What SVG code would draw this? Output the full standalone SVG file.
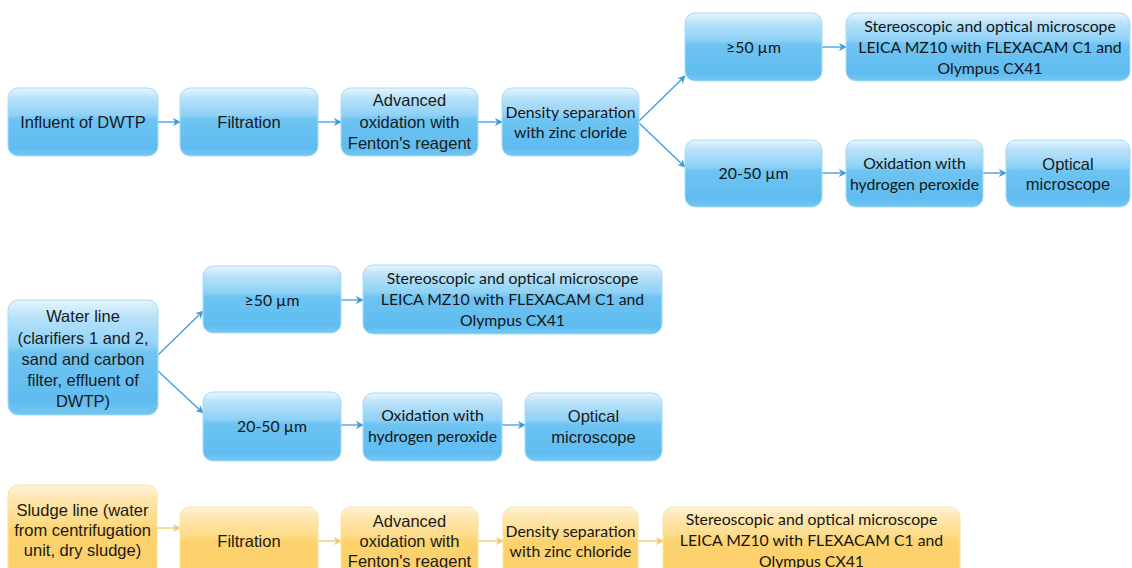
<svg xmlns="http://www.w3.org/2000/svg" width="1132" height="568" viewBox="0 0 1132 568">
<style>
.b{fill:url(#gb);stroke:#a9dbf7;stroke-width:1}
.o{fill:url(#go);stroke:#fde3a0;stroke-width:1}
.a{font-family:"Liberation Sans",Arial,sans-serif;font-size:16.5px;fill:#1a1a1a;text-anchor:middle}
.c{font-family:Lato,"Open Sans",sans-serif;font-size:15.8px;fill:#151515;text-anchor:middle}
.lb{stroke:#3d9ddc;stroke-width:1.3;fill:none;marker-end:url(#mb)}
.lo{stroke:#f2c76e;stroke-width:1.3;fill:none;marker-end:url(#mo)}
</style>
<defs>
<linearGradient id="gb" x1="0" y1="0" x2="0" y2="1">
<stop offset="0" stop-color="#e6f5fd"/>
<stop offset="0.15" stop-color="#b8e2f9"/>
<stop offset="0.4" stop-color="#8ed1f6"/>
<stop offset="0.46" stop-color="#6ec4f2"/>
<stop offset="0.88" stop-color="#5fbcf0"/>
<stop offset="1" stop-color="#76c7f2"/>
</linearGradient>
<linearGradient id="go" x1="0" y1="0" x2="0" y2="1">
<stop offset="0" stop-color="#fef4d8"/>
<stop offset="0.15" stop-color="#fee6ae"/>
<stop offset="0.4" stop-color="#fddb86"/>
<stop offset="0.46" stop-color="#fdd370"/>
<stop offset="1" stop-color="#fccf68"/>
</linearGradient>
<marker id="mb" viewBox="0 0 10 10" refX="9" refY="5" markerWidth="8" markerHeight="8" markerUnits="userSpaceOnUse" orient="auto">
<path d="M0,0 L10,5 L0,10 L3,5 Z" fill="#3d9ddc"/>
</marker>
<marker id="mo" viewBox="0 0 10 10" refX="9" refY="5" markerWidth="8" markerHeight="8" markerUnits="userSpaceOnUse" orient="auto">
<path d="M0,0 L10,5 L0,10 L3,5 Z" fill="#f2c76e"/>
</marker>
</defs>

<g id="connectors">
<line class="lb" x1="158" y1="122" x2="180" y2="122"/>
<line class="lb" x1="318" y1="122" x2="341" y2="122"/>
<line class="lb" x1="478" y1="122" x2="502" y2="122"/>
<line class="lb" x1="639" y1="121" x2="685" y2="76"/>
<line class="lb" x1="639" y1="123" x2="685" y2="167"/>
<line class="lb" x1="822" y1="47" x2="846" y2="47"/>
<line class="lb" x1="822" y1="173" x2="846" y2="173"/>
<line class="lb" x1="983" y1="173" x2="1006" y2="173"/>
<line class="lb" x1="158" y1="355" x2="203" y2="311"/>
<line class="lb" x1="158" y1="371" x2="203" y2="413"/>
<line class="lb" x1="341" y1="300" x2="363" y2="300"/>
<line class="lb" x1="341" y1="425" x2="363" y2="425"/>
<line class="lb" x1="502" y1="425" x2="525" y2="425"/>
<line class="lo" x1="157" y1="528" x2="180" y2="528"/>
<line class="lo" x1="318" y1="541" x2="341" y2="541"/>
<line class="lo" x1="478" y1="541" x2="503" y2="541"/>
<line class="lo" x1="638" y1="541" x2="663" y2="541"/>
</g>

<g id="n-influent"><rect class="b" x="8" y="88" width="150" height="68" rx="10"/><text class="a" x="83" y="128">Influent of DWTP</text></g>
<g id="n-filtration1"><rect class="b" x="180" y="88" width="138" height="68" rx="10"/><text class="a" x="249" y="128">Filtration</text></g>
<g id="n-fenton1"><rect class="b" x="341" y="88" width="137" height="68" rx="10"/><text class="a" x="409.5" y="106">Advanced</text><text class="a" x="409.5" y="127.5">oxidation with</text><text class="a" x="409.5" y="149">Fenton's reagent</text></g>
<g id="n-density1"><rect class="b" x="502" y="88" width="137" height="68" rx="10"/><text class="c" x="570.5" y="118">Density separation</text><text class="c" x="570.5" y="138">with zinc cloride</text></g>
<g id="n-ge50-1"><rect class="b" x="685" y="13" width="137" height="68" rx="10"/><text class="c" x="753.5" y="53">≥50 µm</text></g>
<g id="n-stereo1"><rect class="b" x="846" y="13" width="284" height="68" rx="10"/><text class="c" x="990" y="32">Stereoscopic and optical microscope</text><text class="c" x="990" y="53">LEICA MZ10 with FLEXACAM C1 and</text><text class="c" x="990" y="74">Olympus CX41</text></g>
<g id="n-2050-1"><rect class="b" x="685" y="140" width="137" height="67" rx="10"/><text class="c" x="753.5" y="179">20-50 µm</text></g>
<g id="n-h2o2-1"><rect class="b" x="846" y="140" width="137" height="67" rx="10"/><text class="c" x="914.5" y="169">Oxidation with</text><text class="c" x="914.5" y="190">hydrogen peroxide</text></g>
<g id="n-optical1"><rect class="b" x="1006" y="140" width="124" height="67" rx="10"/><text class="a" x="1068" y="170">Optical</text><text class="a" x="1068" y="190">microscope</text></g>

<g id="n-water"><rect class="b" x="8" y="300" width="150" height="115" rx="10"/><text class="a" x="83" y="322">Water line</text><text class="a" x="83" y="344">(clarifiers 1 and 2,</text><text class="a" x="83" y="365">sand and carbon</text><text class="a" x="83" y="386">filter, effluent of</text><text class="a" x="83" y="407">DWTP)</text></g>
<g id="n-ge50-2"><rect class="b" x="203" y="266" width="138" height="67" rx="10"/><text class="c" x="272" y="306">≥50 µm</text></g>
<g id="n-stereo2"><rect class="b" x="363" y="265" width="299" height="69" rx="10"/><text class="c" x="512.5" y="284">Stereoscopic and optical microscope</text><text class="c" x="512.5" y="305">LEICA MZ10 with FLEXACAM C1 and</text><text class="c" x="512.5" y="326">Olympus CX41</text></g>
<g id="n-2050-2"><rect class="b" x="203" y="392" width="138" height="69" rx="10"/><text class="c" x="272" y="432">20-50 µm</text></g>
<g id="n-h2o2-2"><rect class="b" x="363" y="393" width="139" height="68" rx="10"/><text class="c" x="432.5" y="421">Oxidation with</text><text class="c" x="432.5" y="442">hydrogen peroxide</text></g>
<g id="n-optical2"><rect class="b" x="525" y="393" width="137" height="68" rx="10"/><text class="a" x="593.5" y="422">Optical</text><text class="a" x="593.5" y="443">microscope</text></g>

<g id="n-sludge"><rect class="o" x="8" y="485" width="149" height="95" rx="10"/><text class="a" x="82.5" y="516">Sludge line (water</text><text class="a" x="82.5" y="536">from centrifugation</text><text class="a" x="82.5" y="556">unit, dry sludge)</text></g>
<g id="n-filtration3"><rect class="o" x="180" y="507" width="138" height="73" rx="10"/><text class="a" x="249" y="547">Filtration</text></g>
<g id="n-fenton3"><rect class="o" x="341" y="507" width="137" height="73" rx="10"/><text class="a" x="409.5" y="527">Advanced</text><text class="a" x="409.5" y="547">oxidation with</text><text class="a" x="409.5" y="567">Fenton's reagent</text></g>
<g id="n-density3"><rect class="o" x="503" y="507" width="135" height="73" rx="10"/><text class="c" x="570.5" y="537">Density separation</text><text class="c" x="570.5" y="557">with zinc chloride</text></g>
<g id="n-stereo3"><rect class="o" x="663" y="507" width="297" height="73" rx="10"/><text class="c" x="811.5" y="525">Stereoscopic and optical microscope</text><text class="c" x="811.5" y="546">LEICA MZ10 with FLEXACAM C1 and</text><text class="c" x="811.5" y="567">Olympus CX41</text></g>
</svg>
